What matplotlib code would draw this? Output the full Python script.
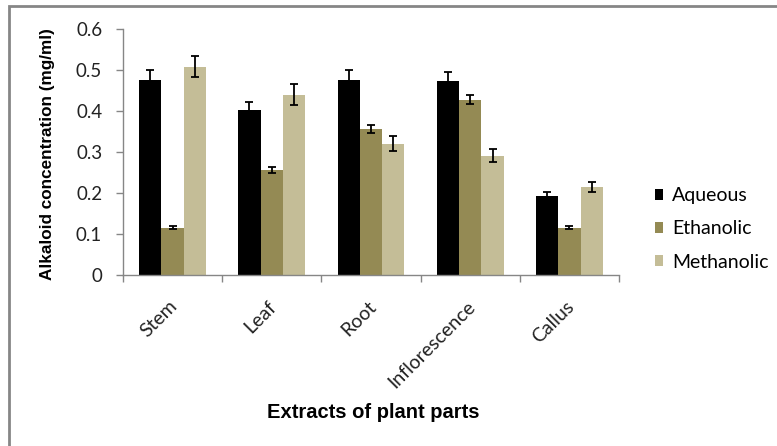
import numpy as np
import matplotlib
matplotlib.use("Agg")
import matplotlib.pyplot as plt
from matplotlib.patches import Rectangle

# Datos
partes = ["Stem", "Leaf", "Root", "Inflorescence", "Callus"]
series = ["Aqueous", "Ethanolic", "Methanolic"]
acuoso = [0.476, 0.403, 0.476, 0.472, 0.193]
etanolico = [0.115, 0.256, 0.356, 0.428, 0.115]
metanolico = [0.508, 0.440, 0.320, 0.291, 0.215]
err_acuoso = [0.025, 0.020, 0.025, 0.023, 0.010]
err_etanolico = [0.004, 0.008, 0.010, 0.012, 0.004]
err_metanolico = [0.025, 0.025, 0.018, 0.016, 0.013]
y_ticks = [0, 0.1, 0.2, 0.3, 0.4, 0.5, 0.6]
y_labels = ["0", "0.1", "0.2", "0.3", "0.4", "0.5", "0.6"]

colores = ["#000000", "#948A54", "#C4BD97"]
gris = "#868686"

fig = plt.figure(figsize=(7.77, 4.46), dpi=100)
ax = fig.add_axes([123 / 777, 1 - 275 / 446, 496 / 777, 246 / 446])

x = np.arange(len(partes))
ancho = 0.225
valores = [acuoso, etanolico, metanolico]
errores = [err_acuoso, err_etanolico, err_metanolico]
for i in range(3):
    ax.bar(x + (i - 1) * ancho, valores[i], ancho, color=colores[i],
           label=series[i], yerr=errores[i], capsize=3.2,
           error_kw=dict(ecolor="black", elinewidth=1.3, capthick=1.3))

ax.set_xlim(-0.5, len(partes) - 0.5)
ax.set_ylim(0, 0.6)
ax.set_yticks(y_ticks)
ax.set_yticklabels(y_labels, fontsize=13.5, family="Lato", color="#222222")
ax.set_xticks(np.arange(-0.5, len(partes)))
ax.set_xticklabels([])
ax.tick_params(axis="both", color=gris, length=5, width=1)
ax.tick_params(axis="y", pad=10)

for s in ["top", "right"]:
    ax.spines[s].set_visible(False)
for s in ["left", "bottom"]:
    ax.spines[s].set_color(gris)
    ax.spines[s].set_linewidth(1)

# Etiquetas de categoría rotadas
for i, p in enumerate(partes):
    ax.text(i - 0.04, -0.055, p, rotation=45, ha="right", va="top",
            rotation_mode="anchor", fontsize=14, family="Lato",
            color="#222222")

ax.set_ylabel("Alkaloid concentration (mg/ml)", fontsize=12.3,
              fontweight="bold", family="Liberation Sans")
ax.yaxis.set_label_coords(-0.137, 0.49)
fig.text(373 / 777, 1 - 413 / 446, "Extracts of plant parts", ha="center",
         va="center", fontsize=14.5, fontweight="bold", family="Liberation Sans")

ax.legend(loc="center left", bbox_to_anchor=(1.056, 0.187), frameon=False,
          borderaxespad=0, prop={"family": "Lato", "size": 14},
          handlelength=0.45, handleheight=0.45, handletextpad=0.45,
          labelspacing=0.83)

# Marco exterior
fig.patches.append(Rectangle((8.5 / 777, -0.01), 1.0, 1 - 6.5 / 446 + 0.01,
                             transform=fig.transFigure, fill=False,
                             edgecolor=gris, linewidth=2))

fig.savefig("out.png", dpi=100)
